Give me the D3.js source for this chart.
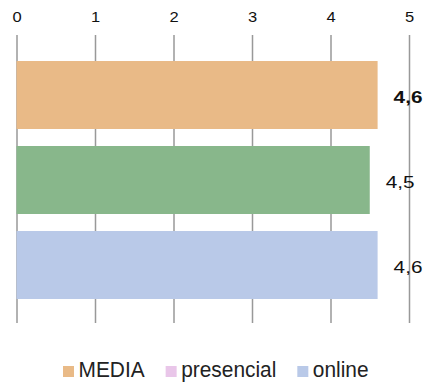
<!DOCTYPE html>
<html>
<head>
<meta charset="utf-8">
<script src="https://cdn.jsdelivr.net/npm/d3@7"></script>
<style>
  body { margin: 0; background: #fff; }
  svg { display: block; font-family: "Liberation Sans", Arial, sans-serif; }
</style>
</head>
<body>
<div id="chart"></div>
<script>
// categories (top to bottom) and their values
var categories = ["MEDIA", "presencial", "online"]
var values = [4.6, 4.5, 4.6]
var valueLabels = ["4,6", "4,5", "4,6"]
var barColors = ["#e9ba87", "#88b78b", "#b9c9e8"]

// legend entries (legend uses its own swatch colours)
var legendNames = ["MEDIA", "presencial", "online"]
var legendColors = ["#e9ba87", "#e9c6e9", "#b9c9e8"]

var tickValues = [0, 1, 2, 3, 4, 5]

var width = 427, height = 382

var svg = d3.select("#chart")
  .append("svg")
  .attr("width", width)
  .attr("height", height)

var x = d3.scaleLinear().domain([0, 5]).range([16.5, 409])

var y = d3.scaleBand()
  .domain(categories)
  .range([52.5, 307.5])
  .paddingInner(0.2)
  .paddingOuter(0.1)

// gridlines + tick labels on top
var gridTop = 35, gridBottom = 323
var axis = svg.append("g")
  .attr("transform", "translate(0," + gridTop + ")")
  .call(d3.axisTop(x).tickValues(tickValues).tickSize(-(gridBottom - gridTop)).tickPadding(13).tickFormat(d3.format("d")))

axis.select(".domain").remove()
axis.selectAll(".tick line")
  .attr("stroke", "#999")
  .attr("stroke-width", 1.5)
axis.selectAll(".tick text")
  .attr("fill", "#111")
  .style("font-size", "14px")
  .attr("transform", "scale(1.18,1)")

// bars
var data = categories.map(function (c, i) {
  return { cat: c, value: values[i], label: valueLabels[i], color: barColors[i], idx: i }
})

svg.selectAll(".bar")
  .data(data)
  .enter().append("rect")
  .attr("class", "bar")
  .attr("x", x(0))
  .attr("y", function (d) { return y(d.cat) })
  .attr("width", function (d) { return x(d.value) - x(0) })
  .attr("height", y.bandwidth())
  .attr("fill", function (d) { return d.color })

// value labels
svg.selectAll(".val")
  .data(data)
  .enter().append("text")
  .attr("class", "val")
  .attr("transform", function (d) {
    return "translate(" + (x(d.value) + 16) + "," + (y(d.cat) + y.bandwidth() / 2 + 7.5) + ") scale(1.22,1)"
  })
  .style("font-size", "17px")
  .style("font-weight", function (d) { return d.idx === 0 ? "bold" : "normal" })
  .attr("fill", "#111")
  .text(function (d) { return d.label })

// legend
var legendScale = 0.95
var legend = svg.append("g")
var lx = 63
legendNames.forEach(function (name, i) {
  legend.append("rect")
    .attr("x", lx)
    .attr("y", 366)
    .attr("width", 11)
    .attr("height", 11)
    .attr("fill", legendColors[i])
  var t = legend.append("text")
    .attr("transform", "translate(" + (lx + 15.5) + ",376.5) scale(" + legendScale + ",1)")
    .style("font-size", "22px")
    .attr("fill", "#222")
    .text(name)
  var w = t.node().getComputedTextLength() * legendScale
  lx += 15.5 + w + 21
})
</script>
</body>
</html>
